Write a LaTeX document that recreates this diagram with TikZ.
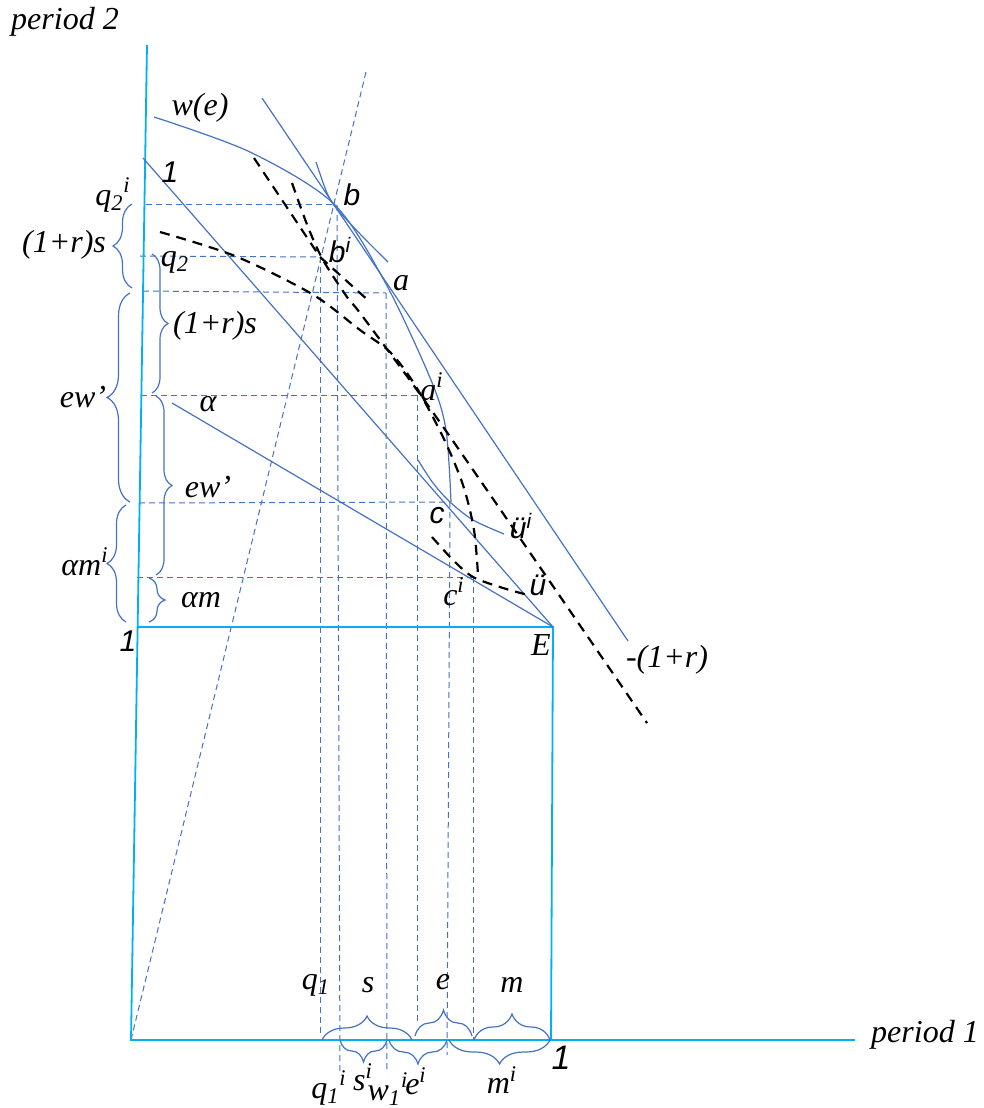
\documentclass[tikz,border=0pt]{standalone}
\usepackage{fontspec}
\setmainfont{Liberation Serif}
\setsansfont{Liberation Sans}
\usetikzlibrary{decorations.pathreplacing}
\definecolor{lb}{HTML}{4472C4}
\definecolor{axc}{HTML}{00B0F0}
\begin{document}
\begin{tikzpicture}[x=0.5pt,y=-0.5pt,
  lbl/.style={font=\fontsize{16}{19}\selectfont\itshape, inner sep=0pt},
  slbl/.style={font=\fontsize{15}{18}\selectfont\sffamily\itshape, inner sep=0pt},
  bl/.style={draw=lb, line width=0.6pt},
  guide/.style={draw=lb, line width=0.5pt, dash pattern=on 3pt off 2pt},
  blk/.style={draw=black, line width=1.1pt, dash pattern=on 5pt off 3.5pt},
  axisline/.style={draw=axc, line width=0.9pt},
  br/.style={draw=lb, line width=0.6pt, decorate, decoration={brace, amplitude=#1}},
]
\useasboundingbox (0,0) rectangle (984,1108);
% key points
\coordinate (O) at (131,1040);
\coordinate (Ytop) at (147,45);
\coordinate (Xend) at (855,1040);
\coordinate (E) at (553,627);
\coordinate (Bx) at (137,627);
\coordinate (Ebot) at (551,1040);
\coordinate (b) at (336,204);
\coordinate (bi) at (320,257);
\coordinate (a) at (386,293);
\coordinate (ai) at (417,395);
\coordinate (c) at (450,502);
\coordinate (ci) at (473,577);
\coordinate (L1s) at (143,158);
\coordinate (Las) at (172,403);
\coordinate (Lrs) at (262,98);
\coordinate (Lre) at (628,641);
\coordinate (Ray) at (366,72);
% horizontal guides
\draw[guide] (146,204) -- (b);
\draw[guide] (140,256) -- (bi);
\draw[guide] (143,291) -- (a);
\draw[guide] (141,395) -- (ai);
\draw[guide] (139,503) -- (c);
\draw[guide] (137,577) -- (ci);
% vertical guides
\draw[guide] (bi) -- (320,1034);
\draw[guide] (337,205) -- (340,1073);
\draw[guide] (a) -- (387,1073);
\draw[guide] (ai) -- (417,1022);
\draw[guide] (c) -- (447,1055);
\draw[guide] (ci) -- (473,1040);
% ray from origin
\draw[guide] (O) -- (Ray);
% axes and box
\draw[axisline] (Ytop) -- (O) -- (Xend);
\draw[axisline] (Bx) -- (E) -- (Ebot);
% straight lines
\draw[bl] (L1s) -- (E);
\draw[bl] (Las) -- (E);
\draw[bl] (Lrs) -- (Lre);
% curves
\draw[bl] plot[smooth] coordinates {(154,117) (250,152) (334,204) (386,284) (431,380) (446,430) (451,502)};
\draw[bl] plot[smooth] coordinates {(316,162) (327,193) (337,209) (363,237) (388,262)};
\draw[bl] plot[smooth] coordinates {(418,460) (433,483) (450,502) (473,520) (504,534)};
% black dashed
\draw[blk] (254,158) -- (bi) -- (370,302);
\draw[blk] plot[smooth] coordinates {(292,183) (308,227) (323,260) (347,297) (360,313) (417,390) (480,480) (647,723)};
\draw[blk] plot[smooth] coordinates {(160,232) (235,256) (312,294) (360,330) (390,352) (415,385) (443,437) (463,485) (474,530) (478,575)};
\draw[blk] plot[smooth] coordinates {(432,537) (453,560) (473,577) (503,588) (528,595)};
% braces left outer
\draw[br=9.5pt] (132,288) -- (132,204);
\draw[br=11.5pt] (130,502) -- (130,293);
\draw[br=9.5pt] (126,622) -- (126,505);
% braces right inner
\draw[br=8pt] (152,254) -- (152,393);
\draw[br=8pt] (156,396) -- (156,575);
\draw[br=8pt] (149,578) -- (149,622);
% braces bottom above
\draw[br=12pt] (322,1040) -- (412,1040);
\draw[br=13pt] (415,1036) -- (472,1036);
\draw[br=13pt] (474,1040) -- (550,1040);
% braces bottom below
\draw[br=11pt] (387,1040) -- (340,1040);
\draw[br=12pt] (447,1040) -- (389,1040);
\draw[br=12pt] (550,1040) -- (449,1040);
% labels
\node[lbl] (p2) at (65,22) {period 2};
\node[lbl] (p1) at (925,1035) {period 1};
\node[lbl] (we) at (200,108) {w(e)};
\node[slbl] (one1) at (170,172) {1};
\node[lbl] (q2i) at (113,195) {q\textsubscript{2}\textsuperscript{i}};
\node[lbl] (rsL) at (64,245) {(1+r)s};
\node[lbl] (q2) at (175,262) {q\textsubscript{2}};
\node[lbl] (rsR) at (215,326) {(1+r)s};
\node[lbl] (ewL) at (83,397) {ew’};
\node[lbl] (alpha) at (208,404) {α};
\node[lbl] (ewR) at (208,487) {ew’};
\node[lbl] (ami) at (85,562) {αm\textsuperscript{i}};
\node[lbl] (am) at (201,600) {αm};
\node[slbl] (one2) at (128,641) {1};
\node[lbl] (Elbl) at (541,645) {E};
\node[slbl] (blbl) at (352,195) {b};
\node[slbl] (bilbl) at (340,250) {b\textsuperscript{i}};
\node[lbl] (albl) at (401,283) {a};
\node[lbl] (ailbl) at (432,387) {a\textsuperscript{i}};
\node[slbl] (clbl) at (437,516) {c};
\node[lbl] (cilbl) at (454,592) {c\textsuperscript{i}};
\node[slbl] (uilbl) at (521,526) {ü\textsuperscript{i}};
\node[slbl] (ulbl) at (538,585) {ü};
\node[lbl] (rlbl) at (667,660) {-(1+r)};
\node[lbl] (q1) at (316,985) {q\textsubscript{1}};
\node[lbl] (slbl2) at (368,985) {s};
\node[lbl] (elbl) at (443,982) {e};
\node[lbl] (mlbl) at (512,985) {m};
\node[lbl] (q1i) at (329,1088) {q\textsubscript{1}\textsuperscript{i}};
\node[lbl] (silbl) at (363,1077) {s\textsuperscript{i}};
\node[lbl] (w1i) at (388,1089) {w\textsubscript{1}\textsuperscript{i}};
\node[lbl] (eilbl) at (416,1081) {e\textsuperscript{i}};
\node[lbl] (milbl) at (502,1080) {m\textsuperscript{i}};
\node[slbl, font=\fontsize{17}{20}\selectfont\sffamily\itshape] (one3) at (561,1058) {1};
\end{tikzpicture}
\end{document}
